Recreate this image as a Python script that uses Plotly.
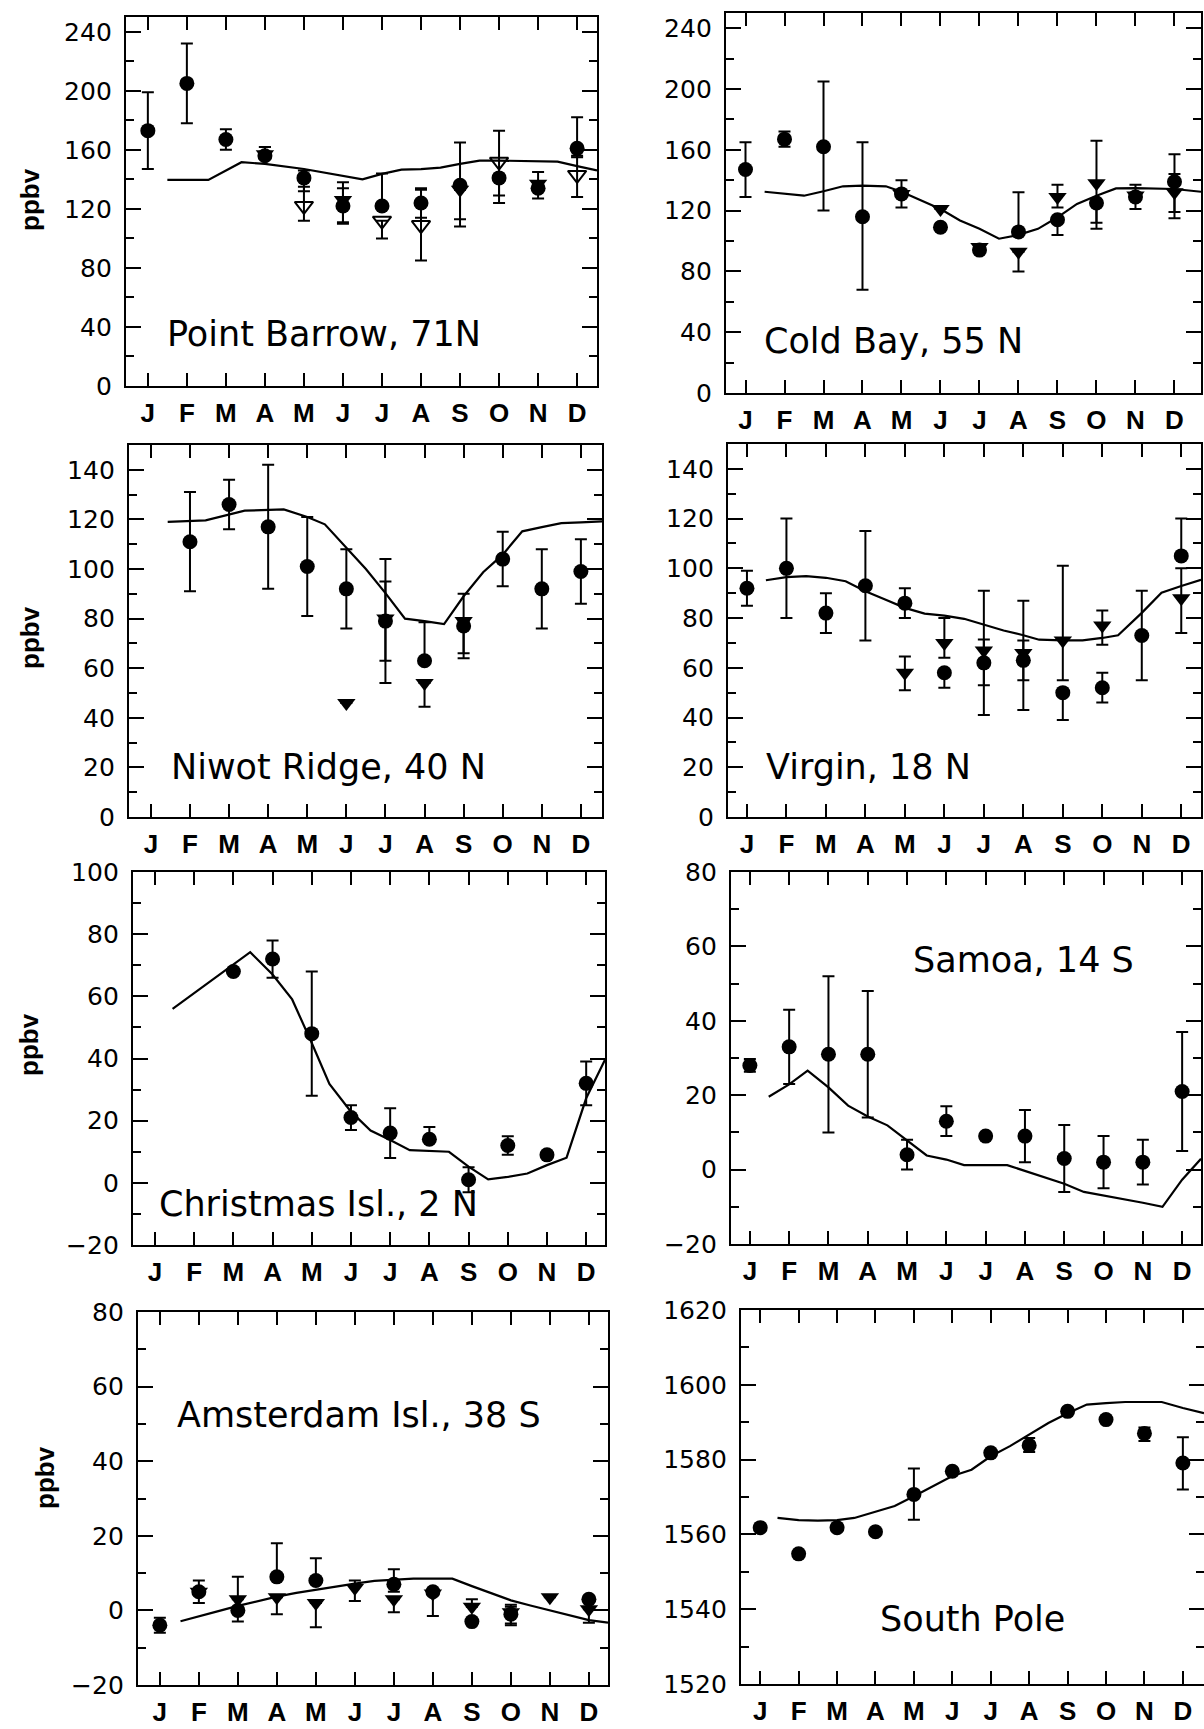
import plotly.graph_objects as go

W, H = 1204, 1729
months = list(range(1, 13))
month_labels = ["J", "F", "M", "A", "M", "J", "J", "A", "S", "O", "N", "D"]

# ---------------- Point Barrow, 71N ----------------
pb_circle = [173, 205, 167, 156, 141, 122, 122, 124, 136, 141, 134, 161]
pb_circle_ep = [26, 27, 7, 6, 5, 12, 22, 10, 29, 0, 11, 21]
pb_circle_em = [26, 27, 7, 2, 9, 11, 0, 10, 23, 17, 7, 6]
pb_open = [None, None, None, None, 122, None, 112, 109, None, 152, None, 143]
pb_open_ep = [None, None, None, None, 13, None, 0, 24, None, 21, None, 13]
pb_open_em = [None, None, None, None, 10, None, 12, 24, None, 23, None, 15]
pb_tri = [None, None, None, 157, None, 126, None, None, 133, None, 137, None]
pb_tri_ep = [None, None, None, 5, None, 12, None, None, 0, None, 0, None]
pb_tri_em = [None, None, None, 3, None, 16, None, None, 25, None, 0, None]
pb_model_x = [1.5, 2.55, 3.4, 4, 5, 6, 6.5, 7, 7.5, 8, 8.5, 9, 9.5, 10, 11.5, 12, 12.51]
pb_model_y = [139.6, 139.6, 151.6, 150.5, 147, 142.5, 140, 143.7, 146.6, 147, 148, 150.5, 152.7, 152.7, 152, 149, 146]

# ---------------- Cold Bay, 55 N ----------------
cb_circle = [147, 167, 162, 116, 131, 109, 94, 106, 114, 125, 129, 139]
cb_circle_ep = [18, 5, 43, 49, 9, None, None, 26, 0, 0, 8, 5]
cb_circle_em = [18, 5, 42, 48, 9, None, None, 0, 10, 17, 8, 20]
cb_tri = [None, None, None, None, 131, 121, 96, 93, 129, 138, 130, 132]
cb_tri_ep = [None, None, None, None, None, None, None, 0, 8, 28, None, 25]
cb_tri_em = [None, None, None, None, None, None, None, 13, 7, 26, None, 17]
cb_model_x = [1.49, 2, 2.5, 3, 3.5, 4, 4.6, 5, 6, 6.5, 7, 7.5, 8, 8.5, 9, 9.5, 10, 10.5, 11, 12, 12.68]
cb_model_y = [132.4, 131, 129.8, 132.7, 136, 136.4, 136, 132.4, 121, 113.5, 108, 101.5, 104, 108, 115.6, 124.4, 129.8, 134.6, 134.8, 134.2, 132.4]

# ---------------- Niwot Ridge, 40 N ----------------
nr_circle = [None, 111, 126, 117, 101, 92, 79, 63, 77, 104, 92, 99]
nr_circle_ep = [None, 20, 10, 25, 20, 16, 25, 15.5, 13, 11, 16, 13]
nr_circle_em = [None, 20, 10, 25, 20, 16, 16, 0, 13, 11, 16, 13]
nr_tri = [None, None, None, None, None, 46, 80, 54, 79, None, None, None]
nr_tri_ep = [None, None, None, None, None, None, 15, 0, 0, None, None, None]
nr_tri_em = [None, None, None, None, None, None, 26, 9.5, 13, None, None, None]
nr_model_x = [1.43, 2.4, 3.4, 4.4, 5, 5.45, 6, 6.5, 7, 7.5, 8, 8.5, 9, 9.5, 10, 10.5, 11, 11.5, 12, 12.54]
nr_model_y = [119, 119.6, 123.5, 124, 121, 118, 108.6, 100, 90.3, 80, 79, 77.8, 89, 98.7, 105.8, 115.2, 116.9, 118.5, 118.8, 119.2]

# ---------------- Virgin, 18 N ----------------
vi_circle = [92, 100, 82, 93, 86, 58, 62, 63, 50, 52, 73, 105]
vi_circle_ep = [7, 20, 8, 22, 6, 0, 29, 24, 0, 6, 18, 15]
vi_circle_em = [7, 20, 8, 22, 6, 6, 21, 20, 11, 6, 18, 0]
vi_tri = [None, None, None, None, 58, 70, 67, 66, 71, 77, None, 88]
vi_tri_ep = [None, None, None, None, 6.5, 10, 4.4, 5, 30, 6, None, 12]
vi_tri_em = [None, None, None, None, 7, 6, 14, 11, 16, 7.7, None, 14]
vi_model_x = [1.48, 2, 2.5, 3, 3.5, 4, 4.5, 5, 5.5, 6, 6.5, 7, 7.5, 8, 8.4, 9, 9.5, 10, 10.4, 11, 11.5, 12, 12.5]
vi_model_y = [95.2, 96.5, 96.9, 96.2, 94.8, 90.8, 87.5, 84.1, 81.8, 81, 79.7, 77.4, 75, 73.1, 71.3, 71, 71, 72, 73.1, 82.1, 90.2, 92.9, 95.4]

# ---------------- Christmas Isl., 2 N ----------------
ci_circle = [None, None, 68, 72, 48, 21, 16, 14, 1, 12, 9, 32]
ci_circle_ep = [None, None, None, 6, 20, 4, 8, 4, 4, 3, None, 7]
ci_circle_em = [None, None, None, 6, 20, 4, 8, 0, 4, 3, None, 7]
ci_model_x = [1.45, 2.4, 3.43, 4, 4.5, 5, 5.45, 6, 6.5, 7, 7.5, 8.5, 9, 9.5, 10, 10.5, 11, 11.5, 12, 12.48]
ci_model_y = [56, 64.8, 74.2, 67, 59, 45, 31.8, 22.9, 16.8, 13.8, 10.5, 10, 5.2, 1.1, 1.9, 3, 5.7, 8.1, 27.2, 39.6]

# ---------------- Samoa, 14 S ----------------
sa_circle = [28, 33, 31, 31, 4, 13, 9, 9, 3, 2, 2, 21]
sa_circle_ep = [1.7, 10, 21, 17, 4, 4, None, 7, 9, 7, 6, 16]
sa_circle_em = [1.7, 10, 21, 17, 4, 4, None, 7, 9, 7, 6, 16]
sa_model_x = [1.48, 2, 2.47, 3, 3.5, 4, 4.5, 5, 5.5, 6, 6.45, 7.55, 8, 8.5, 9, 9.5, 10, 10.5, 11, 11.5, 12, 12.48]
sa_model_y = [19.6, 22.9, 26.6, 22.1, 17.2, 14.3, 11.9, 7.9, 3.8, 2.7, 1.2, 1.2, -0.4, -2, -3.8, -6, -6.9, -8, -8.9, -10, -2.7, 2.9]

# ---------------- Amsterdam Isl., 38 S ----------------
am_circle = [-4, 5, 0, 9, 8, None, 7, 5, -3, -1, None, 3]
am_circle_ep = [2, 3, 0, 9, 6, None, 4, None, None, 2, None, None]
am_circle_em = [2, 3, 3, 0, 0, None, 2, None, None, 3, None, None]
am_tri = [None, 5, 3, 3.5, 2, 6, 3, 4.5, 1, -0.5, 3.5, 0.3]
am_tri_ep = [None, None, 6, 0, 0, 2, 0, 0, 2, 2, None, 0]
am_tri_em = [None, None, 0, 4.5, 6.5, 3.5, 3.5, 6, 0, 3, None, 3.6]
am_model_x = [1.53, 2, 2.5, 3, 3.5, 4, 4.5, 5, 5.5, 6, 6.5, 7, 7.5, 8, 8.5, 9, 9.5, 10, 10.5, 11, 11.5, 12, 12.49]
am_model_y = [-2.9, -1.5, -0.2, 1.2, 2.5, 3.7, 4.7, 5.6, 6.5, 7.2, 7.9, 8.3, 8.5, 8.5, 8.5, 6.5, 4.5, 2.7, 1.3, 0, -1.3, -2.6, -3.3]

# ---------------- South Pole ----------------
sp_circle = [1561.8, 1554.8, 1561.8, 1560.7, 1570.7, 1576.9, 1581.8, 1583.8, 1592.9, 1590.7, 1587, 1579.1]
sp_circle_ep = [None, None, None, None, 6.9, None, None, 2, None, None, 1.6, 6.9]
sp_circle_em = [None, None, None, None, 6.8, None, None, 1.8, None, None, 2, 7.1]
sp_model_x = [1.45, 2, 2.5, 3, 3.45, 4, 4.5, 5, 5.5, 6, 6.5, 7, 7.5, 8, 8.5, 9, 9.5, 10, 10.5, 11, 11.45, 12, 12.55]
sp_model_y = [1564.4, 1563.8, 1563.7, 1563.8, 1564.4, 1566, 1567.6, 1570.2, 1572.9, 1575.6, 1577.3, 1580.9, 1583.6, 1586.7, 1589.8, 1592.4, 1594.7, 1595.1, 1595.4, 1595.4, 1595.4, 1593.8, 1592.4]

# ---------------- panel layout ----------------
CIRCLE, TRI, OPEN = "circle", "triangle-down", "triangle-down-open"
panels = [
    dict(name="Point Barrow, 71N", box=(126, 597, 17, 386), xr=(0.44, 12.51), yr=(0, 250), dt=40, mdt=20,
         label_xy=(1.43, 35), model=(pb_model_x, pb_model_y), ppbv=(30, 200),
         series=[(CIRCLE, pb_circle, pb_circle_ep, pb_circle_em), (OPEN, pb_open, pb_open_ep, pb_open_em),
                 (TRI, pb_tri, pb_tri_ep, pb_tri_em)]),
    dict(name="Cold Bay, 55 N", box=(726, 1201, 13, 393), xr=(0.5, 12.68), yr=(0, 250), dt=40, mdt=20,
         label_xy=(1.42, 34), model=(cb_model_x, cb_model_y), ppbv=None,
         series=[(CIRCLE, cb_circle, cb_circle_ep, cb_circle_em), (TRI, cb_tri, cb_tri_ep, cb_tri_em)]),
    dict(name="Niwot Ridge, 40 N", box=(129, 602, 445, 817), xr=(0.44, 12.54), yr=(0, 150), dt=20, mdt=10,
         label_xy=(1.46, 20), model=(nr_model_x, nr_model_y), ppbv=(30, 638),
         series=[(CIRCLE, nr_circle, nr_circle_ep, nr_circle_em), (TRI, nr_tri, nr_tri_ep, nr_tri_em)]),
    dict(name="Virgin, 18 N", box=(728, 1201, 444, 817), xr=(0.52, 12.5), yr=(0, 150), dt=20, mdt=10,
         label_xy=(1.44, 20), model=(vi_model_x, vi_model_y), ppbv=None,
         series=[(CIRCLE, vi_circle, vi_circle_ep, vi_circle_em), (TRI, vi_tri, vi_tri_ep, vi_tri_em)]),
    dict(name="Christmas Isl., 2 N", box=(133, 605, 872, 1245), xr=(0.44, 12.48), yr=(-20, 100), dt=20, mdt=10,
         label_xy=(1.05, -6.7), model=(ci_model_x, ci_model_y), ppbv=(29, 1045),
         series=[(CIRCLE, ci_circle, ci_circle_ep, ci_circle_em)]),
    dict(name="Samoa, 14 S", box=(731, 1201, 872, 1244), xr=(0.52, 12.48), yr=(-20, 80), dt=20, mdt=10,
         label_xy=(5.1, 56.3), model=(sa_model_x, sa_model_y), ppbv=None,
         series=[(CIRCLE, sa_circle, sa_circle_ep, sa_circle_em)]),
    dict(name="Amsterdam Isl., 38 S", box=(138, 608, 1312, 1685), xr=(0.44, 12.49), yr=(-20, 80), dt=20, mdt=10,
         label_xy=(1.38, 52.5), model=(am_model_x, am_model_y), ppbv=(45, 1478),
         series=[(CIRCLE, am_circle, am_circle_ep, am_circle_em), (TRI, am_tri, am_tri_ep, am_tri_em)]),
    dict(name="South Pole", box=(741, 1204, 1310, 1684), xr=(0.5, 12.55), yr=(1520, 1620), dt=20, mdt=10,
         label_xy=(4.06, 1537.3), model=(sp_model_x, sp_model_y), ppbv=None,
         series=[(CIRCLE, sp_circle, sp_circle_ep, sp_circle_em)]),
]

TICK_FONT = dict(family="DejaVu Sans", size=25, color="black")
MONTH_FONT = dict(family="Liberation Sans Narrow, Liberation Sans", size=26, color="black", weight="bold")
NAME_FONT = dict(family="DejaVu Sans", size=35, color="black")
PPBV_FONT = dict(family="Liberation Sans", size=26, color="black", weight="bold")

fig = go.Figure()
layout = dict(width=W, height=H, margin=dict(l=0, r=0, t=0, b=0, pad=0, autoexpand=False),
              paper_bgcolor="white", plot_bgcolor="white", showlegend=False, annotations=[])

for i, p in enumerate(panels, start=1):
    xa = "x" if i == 1 else f"x{i}"
    ya = "y" if i == 1 else f"y{i}"
    L, R, T, B = p["box"]
    mx, my = p["model"]
    fig.add_trace(go.Scatter(x=mx, y=my, mode="lines", line=dict(color="black", width=2.2),
                             xaxis=xa, yaxis=ya, hoverinfo="skip", cliponaxis=True))
    for sym, yv, ep, em in p["series"]:
        size = 15 if sym == CIRCLE else 16
        mk = dict(symbol=sym, size=size, color="black", line=dict(color="black", width=2 if sym == OPEN else 0))
        fig.add_trace(go.Scatter(
            x=months, y=yv, mode="markers", marker=mk, xaxis=xa, yaxis=ya, hoverinfo="skip",
            error_y=dict(type="data", symmetric=False, array=ep, arrayminus=em,
                         color="black", thickness=2, width=6)))
    layout["xaxis" if i == 1 else f"xaxis{i}"] = dict(
        domain=[L / W, R / W], range=list(p["xr"]), anchor=ya, automargin=False,
        tickmode="array", tickvals=months, ticktext=month_labels,
        ticks="inside", ticklen=13, tickwidth=2, tickcolor="black",
        mirror="allticks", showline=True, linewidth=2.4, linecolor="black",
        showgrid=False, zeroline=False, tickfont=MONTH_FONT, ticklabelstandoff=3, fixedrange=True)
    layout["yaxis" if i == 1 else f"yaxis{i}"] = dict(
        domain=[1 - B / H, 1 - T / H], range=list(p["yr"]), anchor=xa, automargin=False,
        tick0=p["yr"][0], dtick=p["dt"], ticks="inside", ticklen=15, tickwidth=2, tickcolor="black",
        minor=dict(ticks="inside", ticklen=8, tickwidth=2, tickcolor="black", dtick=p["mdt"],
                   tick0=p["yr"][0], showgrid=False),
        mirror="allticks", showline=True, linewidth=2.4, linecolor="black",
        showgrid=False, zeroline=False, tickfont=TICK_FONT, ticklabelstandoff=7, fixedrange=True)
    lx, ly = p["label_xy"]
    layout["annotations"].append(dict(text=p["name"], x=lx, y=ly, xref=xa, yref=ya, xanchor="left",
                                      yanchor="middle", showarrow=False, font=NAME_FONT))
    if p["ppbv"]:
        px, py = p["ppbv"]
        layout["annotations"].append(dict(text="ppbv", x=px / W, y=1 - py / H, xref="paper", yref="paper",
                                          xanchor="center", yanchor="middle", textangle=-90,
                                          showarrow=False, font=PPBV_FONT))

fig.update_layout(**layout)
fig.write_html("out.html")
